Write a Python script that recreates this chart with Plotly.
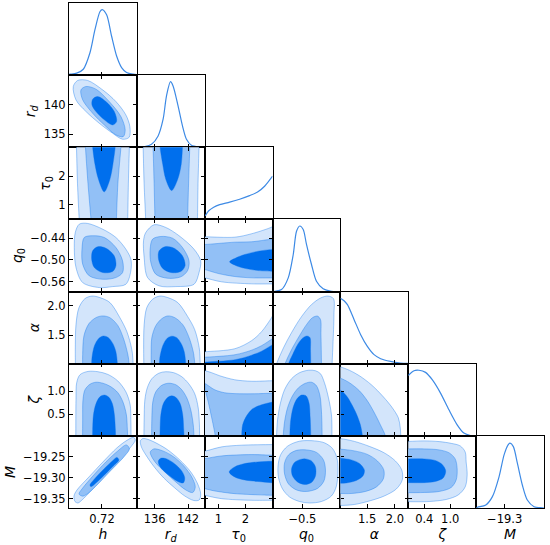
import plotly.graph_objects as go
from plotly.subplots import make_subplots

# parameters of the triangle, in plotting order
labels = ["<i>h</i>", "<i>r</i><sub><i>d</i></sub>", "<i>τ</i><sub>0</sub>", "<i>q</i><sub>0</sub>",
          "<i>α</i>", "<i>ζ</i>", "<i>M</i>"]
lims = [[0.687, 0.755], [132.8, 145.0], [0.5, 3.0], [-0.587, -0.389], [1.02, 2.24], [0.03, 1.6], [-19.372, -19.201]]
xticks = [[0.72], [136, 142], [1, 2], [-0.5], [1.5, 2.0], [0.4, 1.0], [-19.3]]
yticks = [[], [135, 140], [1, 2], [-0.56, -0.50, -0.44], [1.5, 2.0], [0.5, 1.0], [-19.35, -19.30, -19.25]]
xdec = [2, 0, 0, 1, 1, 1, 1]
ydec = [2, 0, 0, 2, 1, 1, 2]

# 1D marginals (normalised to peak 1)
h_grid = [0.687, 0.688, 0.6947, 0.7013, 0.708, 0.713, 0.718, 0.7203, 0.7247, 0.7297, 0.7347, 0.7397, 0.7447, 0.7513, 0.755]
h_pdf = [0.012, 0.015, 0.03, 0.09, 0.342, 0.693, 0.967, 1.0, 0.92, 0.593, 0.292, 0.116, 0.041, 0.015, 0.01]
rd_grid = [132.9, 134.24, 135.44, 136.62, 137.52, 138.13, 138.85, 139.31, 140.21, 141.0, 141.72, 142.61, 144.1, 144.9]
rd_pdf = [0.003, 0.011, 0.046, 0.173, 0.428, 0.784, 1.0, 0.936, 0.631, 0.326, 0.122, 0.031, 0.004, 0.0]
tau_grid = [0.518, 0.647, 0.831, 1.051, 1.419, 1.787, 2.154, 2.448, 2.706, 3.0]
tau_pdf = [0.055, 0.132, 0.187, 0.226, 0.264, 0.308, 0.363, 0.418, 0.506, 0.66]
q0_grid = [-0.587, -0.5803, -0.5608, -0.5413, -0.5267, -0.5171, -0.5075, -0.4976, -0.488, -0.4734, -0.4589,
           -0.4394, -0.4152, -0.391]
q0_pdf = [0.0, 0.004, 0.031, 0.209, 0.565, 0.921, 1.0, 0.947, 0.718, 0.413, 0.157, 0.042, 0.004, 0.0]
alpha_grid = [1.02, 1.085, 1.146, 1.266, 1.384, 1.504, 1.625, 1.743, 1.922, 2.102, 2.24]
alpha_pdf = [1.0, 0.96, 0.9, 0.672, 0.443, 0.264, 0.138, 0.076, 0.035, 0.011, 0.004]
zeta_grid = [0.03, 0.046, 0.162, 0.277, 0.429, 0.584, 0.776, 0.97, 1.161, 1.316, 1.468, 1.6]
zeta_pdf = [0.92, 0.932, 0.993, 1.0, 0.968, 0.856, 0.652, 0.397, 0.168, 0.042, 0.004, 0.0]
M_grid = [-19.372, -19.3687, -19.3476, -19.331, -19.3142, -19.3016, -19.2915, -19.2865, -19.2782, -19.2681,
          -19.2556, -19.243, -19.2261, -19.2053, -19.201]
M_pdf = [0.0, 0.011, 0.046, 0.173, 0.479, 0.81, 0.963, 0.989, 0.936, 0.683, 0.351, 0.122, 0.02, 0.004, 0.0]

# 2D contours: outer, middle, inner region boundaries as (x, y) vertices
h_rd = [
    [(0.6913, 143.08), (0.6957, 144.10), (0.7057, 144.10), (0.7207, 142.51), (0.734, 140.54), (0.744, 138.27),
     (0.748, 136.31), (0.7473, 134.49), (0.7407, 134.16), (0.7307, 135.17), (0.7173, 136.87), (0.704, 138.85),
     (0.694, 140.81)],
    [(0.699, 142.51), (0.704, 143.08), (0.714, 142.63), (0.7273, 140.53), (0.739, 138.0), (0.7433, 135.74),
     (0.7413, 134.6), (0.734, 134.89), (0.7224, 136.58), (0.7107, 138.56), (0.7007, 140.82)],
    [(0.7107, 140.94), (0.7157, 141.39), (0.724, 140.53), (0.7324, 138.84), (0.7347, 137.14), (0.7307, 136.58),
     (0.7224, 137.44), (0.714, 138.84), (0.71, 139.97)],
]
h_tau = [
    [(0.6943, 3.2), (0.6945, 3.0), (0.6955, 1.75), (0.6972, 0.5), (0.6975, 0.3), (0.7455, 0.3), (0.7458, 0.5),
     (0.7465, 1.75), (0.7475, 3.0), (0.7476, 3.2)],
    [(0.7033, 3.2), (0.7035, 3.0), (0.706, 1.75), (0.709, 0.5), (0.7093, 0.3), (0.7342, 0.3), (0.7345, 0.5),
     (0.736, 1.75), (0.739, 3.0), (0.7392, 3.2)],
    [(0.7105, 3.2), (0.7107, 3.0), (0.713, 2.41), (0.7165, 1.89), (0.7223, 1.455), (0.728, 1.89), (0.731, 2.41),
     (0.7333, 3.0), (0.7335, 3.2)],
]
rd_tau = [
    [(133.91, 3.2), (133.93, 3.0), (134.1, 1.75), (134.38, 0.5), (134.41, 0.3), (143.67, 0.3), (143.7, 0.5),
     (143.8, 1.75), (143.98, 3.0), (144.0, 3.2)],
    [(135.7, 3.2), (135.72, 3.0), (135.9, 1.75), (136.05, 0.5), (136.08, 0.3), (141.88, 0.3), (141.92, 0.5),
     (142.1, 1.75), (142.31, 3.0), (142.33, 3.2)],
    [(136.96, 3.2), (136.98, 3.0), (137.45, 2.41), (138.0, 1.89), (139.05, 1.5), (140.15, 1.89), (140.78, 2.41),
     (141.0, 3.0), (141.02, 3.2)],
]
h_q0 = [
    [(0.6973, -0.402), (0.7057, -0.400), (0.7207, -0.4157), (0.734, -0.4385), (0.744, -0.4707), (0.749, -0.4982),
     (0.749, -0.5301), (0.744, -0.5669), (0.7307, -0.5733), (0.7173, -0.576), (0.7007, -0.5623), (0.694, -0.521),
     (0.6923, -0.466), (0.6933, -0.4248)],
    [(0.7023, -0.4385), (0.7107, -0.4338), (0.7223, -0.4385), (0.734, -0.466), (0.7407, -0.5026), (0.7407, -0.5348),
     (0.734, -0.5485), (0.7207, -0.5532), (0.7073, -0.5438), (0.7007, -0.5119), (0.7, -0.4707)],
    [(0.7107, -0.4751), (0.7157, -0.464), (0.724, -0.4679), (0.7323, -0.4888), (0.734, -0.5163), (0.7307, -0.532),
     (0.7207, -0.5348), (0.7123, -0.521), (0.7097, -0.4982)],
]
rd_q0 = [
    [(134.41, -0.4248), (135.9, -0.4036), (138.0, -0.411), (140.39, -0.4338), (143.08, -0.4707), (144.28, -0.5026),
     (143.98, -0.5348), (143.08, -0.5669), (139.8, -0.5733), (136.8, -0.5713), (134.72, -0.5485), (134.11, -0.4935),
     (134.0, -0.4476)],
    [(135.62, -0.4432), (137.11, -0.4358), (139.2, -0.4404), (141.0, -0.466), (142.18, -0.5026), (141.9, -0.5301),
     (140.69, -0.5466), (138.31, -0.5504), (136.21, -0.5394), (135.31, -0.5073), (135.19, -0.4707)],
    [(136.8, -0.4751), (138.0, -0.4633), (139.49, -0.4679), (141.0, -0.4888), (141.47, -0.5163), (140.69, -0.532),
     (138.9, -0.5348), (137.41, -0.5229), (136.69, -0.4982)],
]
tau_q0 = [
    [(0.3, -0.4366), (0.5, -0.4366), (1.614, -0.4377), (2.228, -0.4283), (2.842, -0.4138), (3.0, -0.409),
     (3.2, -0.404), (3.2, -0.5662), (3.0, -0.566), (2.228, -0.5658), (1.125, -0.5603), (0.5, -0.549), (0.3, -0.545)],
    [(0.3, -0.4578), (0.5, -0.4578), (1.614, -0.4514), (2.228, -0.4503), (2.889, -0.444), (3.0, -0.4435),
     (3.2, -0.443), (3.2, -0.5498), (3.0, -0.5496), (2.228, -0.5493), (1.614, -0.5458), (1.004, -0.5375),
     (0.5, -0.5265), (0.3, -0.523)],
    [(1.419, -0.5053), (1.64, -0.4949), (1.97, -0.4853), (2.474, -0.4762), (3.0, -0.4712), (3.2, -0.4705),
     (3.2, -0.5318), (3.0, -0.5313), (2.474, -0.5293), (1.97, -0.5232), (1.64, -0.5155)],
]
h_alpha = [
    [(0.6935, 0.92), (0.6934, 1.02), (0.6933, 1.257), (0.694, 1.681), (0.697, 1.969), (0.703, 2.121), (0.71, 2.164),
     (0.718, 2.138), (0.728, 2.054), (0.738, 1.799), (0.745, 1.562), (0.75, 1.257), (0.7513, 1.02), (0.7515, 0.92)],
    [(0.7005, 0.92), (0.7006, 1.02), (0.7007, 1.172), (0.702, 1.494), (0.707, 1.698), (0.714, 1.799),
     (0.7207, 1.828), (0.728, 1.799), (0.736, 1.664), (0.742, 1.427), (0.746, 1.172), (0.7472, 1.02),
     (0.7473, 0.92)],
    [(0.7095, 0.92), (0.7097, 1.02), (0.71, 1.122), (0.7125, 1.325), (0.717, 1.452), (0.7215, 1.489),
     (0.7265, 1.461), (0.731, 1.359), (0.734, 1.223), (0.7355, 1.02), (0.7357, 0.92)],
]
rd_alpha = [
    [(134.06, 0.92), (134.05, 1.02), (134.02, 1.257), (134.11, 1.681), (134.59, 1.969), (135.67, 2.113),
     (136.93, 2.164), (138.36, 2.138), (140.15, 2.054), (141.95, 1.816), (143.2, 1.596), (144.01, 1.291),
     (144.19, 1.02), (144.2, 0.92)],
    [(135.37, 0.92), (135.37, 1.02), (135.37, 1.172), (135.49, 1.461), (136.21, 1.664), (137.29, 1.782),
     (138.36, 1.828), (139.62, 1.799), (141.05, 1.681), (142.13, 1.477), (142.94, 1.223), (143.21, 1.02),
     (143.22, 0.92)],
    [(136.84, 0.92), (136.86, 1.02), (136.93, 1.122), (137.46, 1.325), (138.27, 1.452), (139.08, 1.486),
     (139.98, 1.461), (140.78, 1.359), (141.32, 1.223), (141.59, 1.02), (141.6, 0.92)],
]
tau_alpha = [
    [(0.3, 0.92), (0.3, 1.215), (0.5, 1.222), (1.614, 1.274), (2.228, 1.41), (2.595, 1.562), (2.963, 1.799),
     (3.0, 1.83), (3.2, 1.97), (3.2, 0.92)],
    [(0.3, 0.92), (0.3, 1.125), (0.5, 1.13), (1.614, 1.172), (2.228, 1.249), (2.595, 1.325), (3.0, 1.444),
     (3.2, 1.5), (3.2, 0.92)],
    [(0.3, 0.92), (0.3, 1.045), (0.5, 1.049), (1.614, 1.088), (2.228, 1.164), (2.595, 1.232), (3.0, 1.342),
     (3.2, 1.39), (3.2, 0.92)],
]
q0_alpha = [
    [(-0.581, 0.92), (-0.5754, 1.02), (-0.555, 1.291), (-0.5317, 1.545), (-0.5026, 1.816), (-0.4734, 2.02),
     (-0.4472, 2.13), (-0.4254, 2.164), (-0.4094, 2.121), (-0.4079, 1.85), (-0.4108, 1.342), (-0.4132, 1.02),
     (-0.4134, 0.92)],
    [(-0.556, 0.92), (-0.5506, 1.02), (-0.5317, 1.257), (-0.5084, 1.494), (-0.488, 1.681), (-0.4705, 1.799),
     (-0.456, 1.825), (-0.4472, 1.766), (-0.4458, 1.511), (-0.4443, 1.02), (-0.4443, 0.92)],
    [(-0.5435, 0.92), (-0.5404, 1.02), (-0.5288, 1.172), (-0.5142, 1.342), (-0.4996, 1.452), (-0.4865, 1.489),
     (-0.4778, 1.461), (-0.4763, 1.257), (-0.4755, 1.02), (-0.4752, 0.92)],
]
h_zeta = [
    [(0.6937, -0.1), (0.6938, 0.03), (0.694, 0.815), (0.6947, 1.186), (0.698, 1.36), (0.706, 1.432), (0.716, 1.426),
     (0.726, 1.367), (0.736, 1.223), (0.744, 0.989), (0.7483, 0.706), (0.749, 0.379), (0.7492, 0.03),
     (0.7493, -0.1)],
    [(0.7005, -0.1), (0.7006, 0.03), (0.7007, 0.379), (0.701, 0.815), (0.703, 1.033), (0.708, 1.153),
     (0.714, 1.197), (0.721, 1.175), (0.729, 1.098), (0.736, 0.968), (0.741, 0.771), (0.7445, 0.488),
     (0.7455, 0.161), (0.7457, 0.03), (0.7457, -0.1)],
    [(0.7105, -0.1), (0.7106, 0.03), (0.7107, 0.161), (0.7115, 0.488), (0.714, 0.728), (0.718, 0.88),
     (0.7225, 0.918), (0.727, 0.87), (0.7305, 0.728), (0.7325, 0.488), (0.7335, 0.161), (0.7337, 0.03),
     (0.7337, -0.1)],
]
rd_zeta = [
    [(134.06, -0.1), (134.07, 0.03), (134.11, 0.379), (134.24, 0.815), (134.68, 1.077), (135.49, 1.273),
     (136.75, 1.393), (138.0, 1.426), (139.44, 1.404), (140.87, 1.317), (142.13, 1.164), (143.21, 0.946),
     (143.83, 0.641), (144.05, 0.27), (144.08, 0.03), (144.1, -0.1)],
    [(135.44, -0.1), (135.45, 0.03), (135.49, 0.379), (135.67, 0.771), (136.21, 0.989), (137.29, 1.131),
     (138.54, 1.175), (139.8, 1.142), (140.87, 1.033), (141.77, 0.859), (142.49, 0.597), (142.94, 0.27),
     (143.06, 0.03), (143.08, -0.1)],
    [(136.93, -0.1), (136.95, 0.03), (136.98, 0.161), (137.11, 0.488), (137.55, 0.728), (138.27, 0.859),
     (139.08, 0.902), (139.89, 0.859), (140.6, 0.728), (141.05, 0.488), (141.23, 0.161), (141.28, 0.03),
     (141.29, -0.1)],
]
tau_zeta = [
    [(0.3, 1.47), (0.5, 1.45), (0.757, 1.404), (1.051, 1.338), (1.603, 1.251), (2.228, 1.218), (2.963, 1.229),
     (3.2, 1.229), (3.2, -0.1), (0.3, -0.1)],
    [(0.518, 1.164), (0.61, 1.131), (0.868, 1.033), (1.235, 0.968), (1.787, 0.946), (2.338, 0.946), (2.963, 0.957),
     (3.2, 0.957), (3.2, -0.1), (0.89, -0.1), (0.886, 0.03), (0.849, 0.161), (0.757, 0.423), (0.629, 0.771),
     (0.537, 0.989)],
    [(3.2, 0.785), (3.0, 0.765), (2.595, 0.706), (2.264, 0.619), (2.044, 0.466), (1.897, 0.27), (1.862, 0.03),
     (1.86, -0.1), (3.2, -0.1)],
]
q0_zeta = [
    [(-0.5758, -0.1), (-0.5754, 0.03), (-0.5724, 0.379), (-0.5652, 0.706), (-0.5521, 1.033), (-0.5317, 1.273),
     (-0.5084, 1.404), (-0.4822, 1.458), (-0.4618, 1.447), (-0.4472, 1.382), (-0.4356, 1.186), (-0.4239, 0.859),
     (-0.4152, 0.488), (-0.4137, 0.03), (-0.4137, -0.1)],
    [(-0.556, -0.1), (-0.5558, 0.03), (-0.552, 0.335), (-0.5433, 0.641), (-0.5288, 0.902), (-0.5113, 1.077),
     (-0.4909, 1.175), (-0.4734, 1.197), (-0.4589, 1.12), (-0.4487, 0.902), (-0.4443, 0.553), (-0.4423, 0.03),
     (-0.4423, -0.1)],
    [(-0.5368, -0.1), (-0.5366, 0.03), (-0.5346, 0.335), (-0.5273, 0.641), (-0.5157, 0.837), (-0.5026, 0.918),
     (-0.4894, 0.902), (-0.4807, 0.75), (-0.4772, 0.423), (-0.4755, 0.03), (-0.4755, -0.1)],
]
alpha_zeta = [
    [(0.92, 1.56), (1.02, 1.53), (1.181, 1.458), (1.361, 1.338), (1.576, 1.142), (1.791, 0.88), (1.953, 0.641),
     (2.061, 0.423), (2.096, 0.204), (2.105, 0.03), (2.105, -0.1), (0.92, -0.1)],
    [(0.92, 1.3), (1.02, 1.284), (1.181, 1.186), (1.361, 1.011), (1.504, 0.793), (1.63, 0.532), (1.738, 0.27),
     (1.827, 0.03), (1.83, -0.1), (0.92, -0.1)],
    [(0.92, 1.04), (1.02, 1.022), (1.128, 0.902), (1.217, 0.728), (1.307, 0.51), (1.379, 0.27), (1.415, 0.03),
     (1.417, -0.1), (0.92, -0.1)],
]
h_M = [
    [(0.693, -19.3566), (0.692, -19.3435), (0.695, -19.3293), (0.707, -19.2984), (0.721, -19.2628),
     (0.735, -19.2295), (0.745, -19.2117), (0.7515, -19.2046), (0.7535, -19.2105), (0.749, -19.2271),
     (0.738, -19.258), (0.724, -19.2936), (0.71, -19.3293), (0.7, -19.353), (0.696, -19.3601)],
    [(0.697, -19.3388), (0.7, -19.3269), (0.711, -19.296), (0.724, -19.2628), (0.736, -19.2366),
     (0.7445, -19.2225), (0.7475, -19.2319), (0.742, -19.2509), (0.729, -19.2829), (0.716, -19.315),
     (0.707, -19.3352), (0.701, -19.344)],
    [(0.708, -19.3174), (0.713, -19.3019), (0.722, -19.2794), (0.731, -19.2592), (0.735, -19.2521),
     (0.737, -19.258), (0.731, -19.2734), (0.722, -19.2948), (0.714, -19.3126), (0.709, -19.3215)],
]
rd_M = [
    [(133.43, -19.2129), (133.88, -19.2074), (134.77, -19.2093), (136.39, -19.2188), (138.36, -19.2343),
     (140.51, -19.258), (142.49, -19.2865), (143.74, -19.315), (144.28, -19.3388), (144.01, -19.353),
     (143.03, -19.3542), (141.41, -19.3435), (139.62, -19.3245), (137.64, -19.3008), (135.85, -19.2734),
     (134.41, -19.2461), (133.61, -19.2271)],
    [(135.22, -19.239), (135.85, -19.2319), (137.46, -19.2366), (139.44, -19.2509), (141.23, -19.2723),
     (142.67, -19.2984), (143.3, -19.3221), (142.85, -19.3352), (141.59, -19.3292), (139.8, -19.3102),
     (137.82, -19.2865), (136.21, -19.2651), (135.4, -19.2485)],
    [(136.66, -19.2604), (137.11, -19.254), (138.18, -19.2556), (139.62, -19.2675), (140.87, -19.2841),
     (141.41, -19.3008), (141.14, -19.3126), (140.15, -19.3091), (138.72, -19.296), (137.46, -19.2818),
     (136.84, -19.2711)],
]
tau_M = [
    [(0.3, -19.2385), (0.5, -19.2373), (1.125, -19.2271), (1.86, -19.2231), (2.963, -19.2217), (3.2, -19.2215),
     (3.2, -19.354), (2.963, -19.3537), (2.228, -19.3537), (1.125, -19.3499), (0.5, -19.3418), (0.3, -19.338)],
    [(0.3, -19.2556), (0.5, -19.2549), (1.125, -19.2485), (2.228, -19.2454), (2.963, -19.2468), (3.2, -19.247),
     (3.2, -19.342), (2.963, -19.3418), (1.614, -19.338), (0.868, -19.3316), (0.5, -19.3262), (0.3, -19.324)],
    [(1.401, -19.2865), (1.603, -19.2746), (1.97, -19.2668), (2.448, -19.2627), (2.963, -19.2611),
     (3.2, -19.2605), (3.2, -19.3124), (2.963, -19.3119), (2.448, -19.3091), (1.97, -19.3055), (1.603, -19.2984)],
]
q0_M = [
    [(-0.5084, -19.2136), (-0.5433, -19.2255), (-0.5637, -19.2461), (-0.571, -19.2723), (-0.5695, -19.3008),
     (-0.5579, -19.3269), (-0.5375, -19.3459), (-0.5084, -19.3566), (-0.4793, -19.3601), (-0.4443, -19.3566),
     (-0.4152, -19.3435), (-0.4006, -19.3198), (-0.3963, -19.2818), (-0.3992, -19.2533), (-0.4123, -19.2307),
     (-0.4356, -19.2176), (-0.4647, -19.2129)],
    [(-0.5171, -19.2354), (-0.5404, -19.2461), (-0.552, -19.2651), (-0.552, -19.2912), (-0.5404, -19.315),
     (-0.5171, -19.3292), (-0.488, -19.3328), (-0.456, -19.3257), (-0.4371, -19.3079), (-0.4327, -19.2818),
     (-0.4385, -19.258), (-0.4589, -19.2402), (-0.488, -19.2343)],
    [(-0.5055, -19.2568), (-0.5229, -19.2639), (-0.5317, -19.2794), (-0.5288, -19.296), (-0.5142, -19.3102),
     (-0.4938, -19.3162), (-0.4734, -19.3114), (-0.4618, -19.296), (-0.4618, -19.2746), (-0.4734, -19.2604),
     (-0.4909, -19.2556)],
]
alpha_M = [
    [(0.92, -19.2072), (1.025, -19.2076), (1.271, -19.2141), (1.54, -19.2259), (1.809, -19.2414), (2.007, -19.2604),
     (2.123, -19.2818), (2.132, -19.3055), (2.025, -19.3269), (1.809, -19.3435), (1.54, -19.3554),
     (1.271, -19.3637), (1.025, -19.3661), (0.92, -19.3661)],
    [(0.92, -19.2319), (1.025, -19.2326), (1.271, -19.2366), (1.504, -19.2449), (1.684, -19.2604), (1.8, -19.2818),
     (1.791, -19.3031), (1.666, -19.3221), (1.469, -19.3328), (1.217, -19.3376), (1.025, -19.3376),
     (0.92, -19.3376)],
    [(0.92, -19.2533), (1.025, -19.254), (1.217, -19.258), (1.361, -19.2663), (1.451, -19.2818), (1.424, -19.296),
     (1.307, -19.3067), (1.128, -19.3126), (1.025, -19.3133), (0.92, -19.3133)],
]
zeta_M = [
    [(-0.1, -19.2141), (0.046, -19.2141), (0.399, -19.2129), (0.746, -19.2146), (1.023, -19.2188),
     (1.231, -19.2248), (1.346, -19.239), (1.369, -19.2628), (1.392, -19.2936), (1.346, -19.3221),
     (1.184, -19.3411), (0.907, -19.3518), (0.515, -19.3566), (0.046, -19.3571), (-0.1, -19.3571)],
    [(-0.1, -19.2319), (0.046, -19.2319), (0.399, -19.2319), (0.746, -19.2343), (0.977, -19.2414),
     (1.115, -19.2556), (1.161, -19.2794), (1.138, -19.3055), (1.023, -19.3233), (0.746, -19.3328),
     (0.399, -19.3352), (0.046, -19.3357), (-0.1, -19.3357)],
    [(-0.1, -19.2556), (0.046, -19.2556), (0.399, -19.2556), (0.653, -19.2592), (0.815, -19.2687),
     (0.896, -19.2841), (0.838, -19.3008), (0.653, -19.3091), (0.399, -19.3119), (0.046, -19.3119),
     (-0.1, -19.3119)],
]

marginals = [(h_grid, h_pdf), (rd_grid, rd_pdf), (tau_grid, tau_pdf), (q0_grid, q0_pdf),
             (alpha_grid, alpha_pdf), (zeta_grid, zeta_pdf), (M_grid, M_pdf)]
# (row, col), zero based, row = y parameter, col = x parameter
contours = {
    (1, 0): h_rd,
    (2, 0): h_tau, (2, 1): rd_tau,
    (3, 0): h_q0, (3, 1): rd_q0, (3, 2): tau_q0,
    (4, 0): h_alpha, (4, 1): rd_alpha, (4, 2): tau_alpha, (4, 3): q0_alpha,
    (5, 0): h_zeta, (5, 1): rd_zeta, (5, 2): tau_zeta, (5, 3): q0_zeta, (5, 4): alpha_zeta,
    (6, 0): h_M, (6, 1): rd_M, (6, 2): tau_M, (6, 3): q0_M, (6, 4): alpha_M, (6, 5): zeta_M,
}

shades = ["#D3E5FB", "#92C0F6", "#006FED"]
edge = "rgba(0,111,237,0.45)"
n = len(labels)


def tick_text(values, dec):
    return [f"{v:.{dec}f}".replace("-", "\u2212") for v in values]


fig = make_subplots(rows=n, cols=n, horizontal_spacing=0, vertical_spacing=0)

for (r, c), levels in contours.items():
    for shade, poly in zip(shades, levels):
        xs = [p[0] for p in poly] + [poly[0][0]]
        ys = [p[1] for p in poly] + [poly[0][1]]
        fig.add_trace(
            go.Scatter(x=xs, y=ys, mode="lines", fill="toself", fillcolor=shade,
                       line=dict(color=edge, width=0.8, shape="spline", smoothing=0.9),
                       hoverinfo="skip", showlegend=False),
            row=r + 1, col=c + 1,
        )

for i, (grid, pdf) in enumerate(marginals):
    fig.add_trace(
        go.Scatter(x=grid, y=pdf, mode="lines", line=dict(color="#3d8ae5", width=1.2, shape="spline", smoothing=0.8),
                   hoverinfo="skip", showlegend=False),
        row=i + 1, col=i + 1,
    )

axis_style = dict(showgrid=False, zeroline=False, showline=True, linecolor="black", linewidth=1.2,
                  ticks="inside", ticklen=3.5, tickwidth=1, tickcolor="black",
                  tickfont=dict(size=11.5, color="black"))

for r in range(n):
    for c in range(n):
        if c > r:
            fig.update_xaxes(visible=False, row=r + 1, col=c + 1)
            fig.update_yaxes(visible=False, row=r + 1, col=c + 1)
            continue
        bottom = r == n - 1
        fig.update_xaxes(
            range=lims[c], tickvals=xticks[c], ticktext=tick_text(xticks[c], xdec[c]),
            showticklabels=bottom, mirror=True if r == c else "ticks",
            row=r + 1, col=c + 1, **axis_style,
        )
        if bottom:
            fig.update_xaxes(title=dict(text=labels[c], font=dict(size=14), standoff=4), row=r + 1, col=c + 1)
        if r == c:
            fig.update_yaxes(range=[0, 1.1], showticklabels=False, ticks="", mirror=True,
                             showgrid=False, zeroline=False, showline=True, linecolor="black", linewidth=1.2,
                             row=r + 1, col=c + 1)
        else:
            fig.update_yaxes(
                range=lims[r], tickvals=yticks[r], ticktext=tick_text(yticks[r], ydec[r]),
                showticklabels=c == 0, mirror="ticks",
                row=r + 1, col=c + 1, **axis_style,
            )
            if c == 0:
                fig.update_yaxes(title=dict(text=labels[r], font=dict(size=14), standoff=4), row=r + 1, col=c + 1)

fig.update_layout(
    width=550, height=545,
    margin=dict(l=69, r=6, t=3, b=37),
    paper_bgcolor="white", plot_bgcolor="white",
    font=dict(family="DejaVu Sans", color="black"),
    showlegend=False,
)
# the page's default body margin would push the figure off the window
fig.write_html("out.html", config={"displayModeBar": False},
               post_script="document.body.style.margin = '0';")
